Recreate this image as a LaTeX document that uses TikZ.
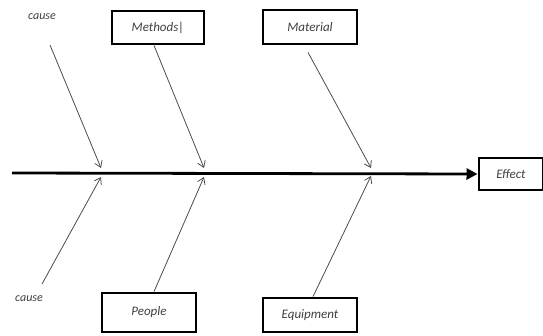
\documentclass[tikz,border=0pt]{standalone}
\usepackage{fontspec}
\setmainfont{Carlito}
\usetikzlibrary{arrows.meta}
\begin{document}
\begin{tikzpicture}[x=1pt,y=-1pt,
  box/.style={draw=black,line width=2.8pt,minimum width=#1,inner sep=0pt,font=\itshape\fontsize{13}{15}\selectfont,text=black!75},
  box/.default={92pt},
  lbl/.style={font=\itshape\fontsize{12}{14}\selectfont,text=black!75},
  bone/.style={draw=black!70,line width=0.8pt,-{Straight Barb[length=6pt,width=8pt,line width=0.8pt]}},
  spine/.style={draw=black,line width=2.8pt,-{Triangle[length=11pt,width=11pt]}}]
\useasboundingbox (0,0) rectangle (543,335);
% boxes
\node[box={92pt},minimum height=33pt] (methods) at (158,27.5) {Methods|};
\node[box={94pt},minimum height=34pt] (material) at (310,27) {Material};
\node[box={94pt},minimum height=39pt] (people) at (149,312.5) {People};
\node[box={94pt},minimum height=34pt] (equipment) at (310,315) {Equipment};
\node[box={64pt},minimum height=32pt,anchor=west] (effect) at (477.5,174) {Effect};
\node[lbl] (causeA) at (42,17) {cause};
\node[lbl] (causeB) at (29,299) {cause};
% spine
\coordinate (s0) at (12,173);
\draw[spine] (s0) -- (effect.west);
% junction points
\coordinate (j1t) at (101,168);
\coordinate (j2t) at (204,168);
\coordinate (j3t) at (371,168);
\coordinate (j1b) at (101,177);
\coordinate (j2b) at (204,177);
\coordinate (j3b) at (371,176);
% bone starts
\coordinate (a1) at (50,45);
\coordinate (a4) at (42,284);
% bones
\draw[bone] (a1) -- (j1t);
\draw[bone] ([xshift=-4pt]methods.south) -- (j2t);
\draw[bone] ([xshift=-2pt,yshift=-7pt]material.south) -- (j3t);
\draw[bone] (a4) -- (j1b);
\draw[bone] ([xshift=5pt]people.north) -- (j2b);
\draw[bone] ([xshift=3pt]equipment.north) -- (j3b);
\end{tikzpicture}
\end{document}
